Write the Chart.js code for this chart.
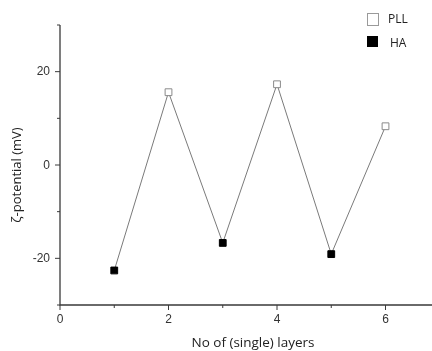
<!DOCTYPE html>
<html><head><meta charset="utf-8">
<script src="https://cdn.jsdelivr.net/npm/chart.js@4"></script>
<style>html,body{margin:0;padding:0;background:#fff}#wrap{width:432px;height:351px}</style>
</head><body><div id="wrap"><canvas id="c" width="432" height="351"></canvas></div>
<script>
const layers = [1, 2, 3, 4, 5, 6];
const zeta = [-22.6, 15.6, -16.7, 17.3, -19.1, 8.3];
const coating = ['HA', 'PLL', 'HA', 'PLL', 'HA', 'PLL'];
const xMajorTicks = [0, 2, 4, 6];
const xMinorTicks = [1, 3, 5];
const yMajorTicks = [-20, 0, 20];
const yMinorTicks = [-30, -10, 10, 30];
const legendLabels = ['PLL', 'HA'];
const yTitle = 'ζ-potential (mV)';
const xTitle = 'No of (single) layers';

const pts = layers.map((x, i) => ({x, y: zeta[i]}));
const pll = pts.filter((p, i) => coating[i] === 'PLL');
const ha = pts.filter((p, i) => coating[i] === 'HA');

const axisColor = '#3a3a3a';
const axesPlugin = {
  id: 'axesPlugin',
  afterDraw(chart) {
    const ctx = chart.ctx, xs = chart.scales.x, ys = chart.scales.y;
    const ca = chart.chartArea;
    ctx.save();
    ctx.strokeStyle = axisColor; ctx.lineWidth = 1.3;
    ctx.beginPath();
    ctx.moveTo(ca.left, ys.getPixelForValue(30)); ctx.lineTo(ca.left, ca.bottom);
    ctx.lineTo(432, ca.bottom); ctx.stroke();
    ctx.lineWidth = 1;
    const tick = (v, len, axis) => {
      ctx.beginPath();
      if (axis === 'x') { const px = xs.getPixelForValue(v); ctx.moveTo(px, ca.bottom); ctx.lineTo(px, ca.bottom + len); }
      else { const py = ys.getPixelForValue(v); ctx.moveTo(ca.left, py); ctx.lineTo(ca.left - len, py); }
      ctx.stroke();
    };
    xMajorTicks.forEach(v => tick(v, 5, 'x'));
    xMinorTicks.forEach(v => tick(v, 3, 'x'));
    yMajorTicks.forEach(v => tick(v, 5, 'y'));
    yMinorTicks.forEach(v => tick(v, 3, 'y'));
    ctx.fillStyle = '#333';
    ctx.font = '12px "Liberation Sans"';
    ctx.textBaseline = 'middle';
    ctx.textAlign = 'right';
    yMajorTicks.forEach(v => ctx.fillText(String(v), ca.left - 10, ys.getPixelForValue(v) + 0.5));
    ctx.textAlign = 'center';
    xMajorTicks.forEach(v => ctx.fillText(String(v), xs.getPixelForValue(v), ca.bottom + 15));
    ctx.fillStyle = '#222';
    ctx.font = '13.5px "Open Sans"';
    ctx.fillText(xTitle, 253, ca.bottom + 38);
    ctx.save();
    ctx.translate(17, 175); ctx.rotate(-Math.PI / 2);
    ctx.font = '13px "Open Sans"';
    ctx.fillText(yTitle, 0, 0);
    ctx.restore();
    ctx.font = '12px "Open Sans"';
    ctx.textAlign = 'left';
    ctx.fillStyle = '#fff'; ctx.strokeStyle = '#9a9a9a';
    ctx.fillRect(367.5, 13.5, 11, 12); ctx.strokeRect(367.5, 13.5, 11, 12);
    ctx.fillStyle = '#000'; ctx.fillRect(367, 36, 11, 11);
    ctx.fillStyle = '#222';
    ctx.fillText(legendLabels[0], 388, 20);
    ctx.fillText(legendLabels[1], 390, 44);
    ctx.restore();
  }
};

new Chart(document.getElementById('c'), {
  type: 'scatter',
  data: {
    datasets: [
      {label: 'line', data: pts, showLine: true, borderColor: '#7a7a7a', borderWidth: 1, pointRadius: 0, order: 3},
      {label: 'PLL', data: pll, pointStyle: 'rect', pointRadius: 4.8, backgroundColor: '#fff', borderColor: '#8a8a8a', borderWidth: 1, order: 1},
      {label: 'HA', data: ha, pointStyle: 'rect', pointRadius: 4.8, backgroundColor: '#000', borderColor: '#000', borderWidth: 1, order: 1}
    ]
  },
  options: {
    responsive: false, animation: false,
    layout: {padding: {left: 0, right: 0, top: 25, bottom: 0}},
    plugins: {legend: {display: false}, tooltip: {enabled: false}},
    scales: {
      x: {
        type: 'linear', min: 0, max: 6.75,
        afterFit(s) { s.height = 46; },
        grid: {display: false}, border: {display: false},
        ticks: {display: false, stepSize: 2},
        title: {display: false}
      },
      y: {
        type: 'linear', min: -30, max: 30,
        afterFit(s) { s.width = 60; },
        grid: {display: false}, border: {display: false},
        ticks: {display: false, stepSize: 10},
        title: {display: false}
      }
    }
  },
  plugins: [axesPlugin]
});
</script></body></html>
